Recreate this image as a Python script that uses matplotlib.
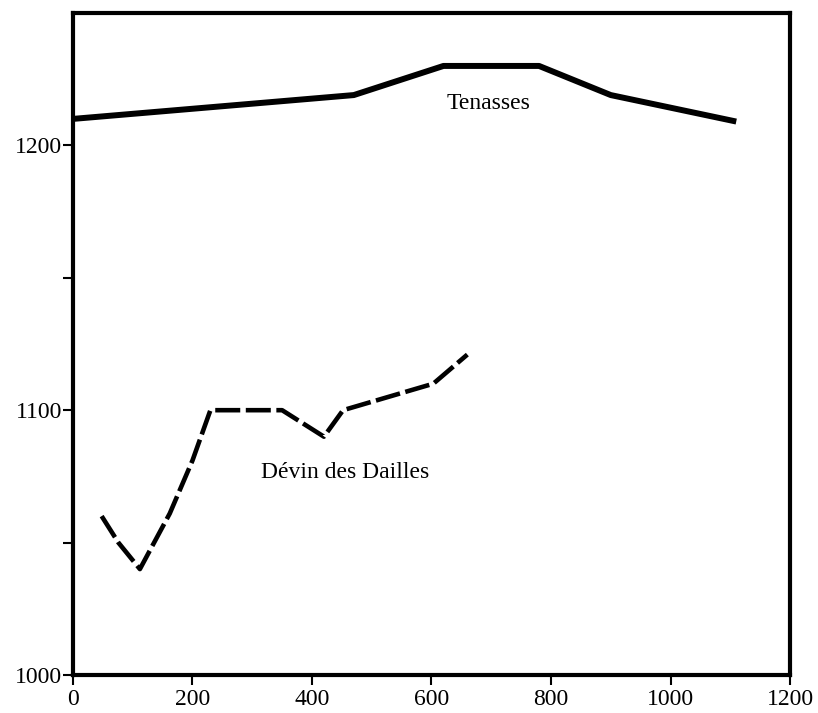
import matplotlib
matplotlib.use("Agg")
import matplotlib.pyplot as plt

# Tenasses profile (solid)
ten_x = [0, 470, 620, 780, 900, 1110]
ten_y = [1210, 1219, 1230, 1230, 1219, 1209]

# Devin des Dailles profile (dashed)
dev_x = [48, 76, 112, 162, 200, 230, 350, 420, 452, 603, 660]
dev_y = [1060, 1050, 1040, 1061, 1081, 1100, 1100, 1090, 1100, 1110, 1121]

x_ticks = [0, 200, 400, 600, 800, 1000, 1200]
y_ticks = [1000, 1050, 1100, 1150, 1200]
y_labels = ['1000', '', '1100', '', '1200']

plt.rcParams['font.family'] = ['Liberation Serif', 'DejaVu Serif']
plt.rcParams['lines.scale_dashes'] = False

fig = plt.figure(figsize=(8.18, 7.13), dpi=100)
ax = fig.add_axes([0.0892, 0.0533, 0.8766, 0.9285])

ax.plot(ten_x, ten_y, color='black', lw=4.3, solid_capstyle='butt')
line, = ax.plot(dev_x, dev_y, color='black', lw=3.3, dash_capstyle='butt')
line.set_dashes((18, 4))

ax.text(695, 1216, 'Tenasses', ha='center', va='center', fontsize=17)
ax.text(455, 1076.5, 'Dévin des Dailles', ha='center', va='center', fontsize=17)

ax.set_xlim(0, 1200)
ax.set_ylim(1000, 1250)
ax.set_xticks(x_ticks)
ax.set_yticks(y_ticks)
ax.set_yticklabels(y_labels)
ax.tick_params(direction='out', length=7, width=1.5, labelsize=17, pad=1)
ax.tick_params(axis='x', pad=3)
for s in ax.spines.values():
    s.set_linewidth(3)

fig.savefig('out.png', dpi=100)
